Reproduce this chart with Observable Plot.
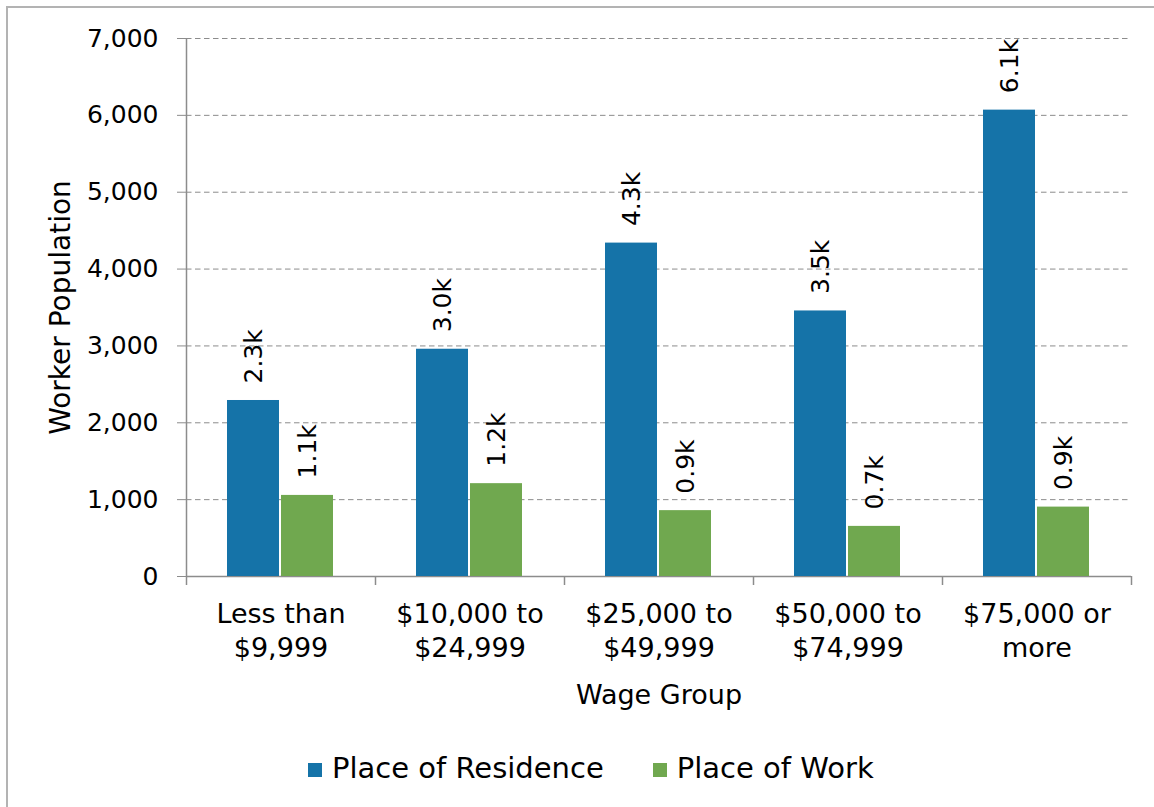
<!DOCTYPE html>
<html>
<head>
<meta charset="utf-8">
<script src="https://cdn.jsdelivr.net/npm/d3@7"></script>
<script src="https://cdn.jsdelivr.net/npm/@observablehq/plot@0.6"></script>
<style>
  html, body { margin: 0; padding: 0; background: #fff; }
  body { width: 1154px; height: 807px; overflow: hidden; position: relative; font-family: "DejaVu Sans", sans-serif; }
  #box { position: absolute; left: 6px; top: 6px; width: 1300px; height: 1000px; border-left: 2px solid #b3b3b3; border-top: 2px solid #b3b3b3; }
  #chart { position: absolute; left: 0; top: 0; }
  #legend { position: absolute; left: 308px; top: 751px; display: flex; align-items: center; gap: 49px; font-size: 29px; line-height: 34px; color: #000; }
  #legend .item { display: flex; align-items: center; gap: 10px; }
  #legend .sw { width: 14px; height: 14px; display: inline-block; margin-top: 3px; }
</style>
</head>
<body>
<div id="box"></div>
<div id="chart"></div>
<div id="legend"></div>
<script>
// ---- data ----
const categories = ["Less than\n$9,999", "$10,000 to\n$24,999", "$25,000 to\n$49,999", "$50,000 to\n$74,999", "$75,000 or\nmore"];
const series = ["Place of Residence", "Place of Work"];
const residence = [2290, 2957, 4338, 3455, 6068];
const work = [1055, 1208, 857, 652, 903];
const colors = ["#1573a8", "#70a84f"];
const yTicks = [0, 1000, 2000, 3000, 4000, 5000, 6000, 7000];
const yTitle = "Worker Population";
const xTitle = "Wage Group";

const rows = categories.flatMap((c, i) => [
  {cat: c, series: series[0], value: residence[i]},
  {cat: c, series: series[1], value: work[i]}
]);

const gray = "#8c8c8c";

const chart = Plot.plot({
  width: 1154,
  height: 720,
  marginLeft: 184,
  marginRight: 21,
  marginTop: 38,
  marginBottom: 144,
  style: {fontFamily: "'DejaVu Sans', sans-serif", fontSize: "25px", color: "#000", background: "transparent"},
  fx: {domain: categories, padding: 0, label: null},
  x: {domain: series, paddingInner: 0.03, paddingOuter: 0.76, axis: null},
  y: {domain: [0, 7000], axis: null},
  color: {domain: series, range: colors},
  marks: [
    Plot.gridY(yTicks, {stroke: gray, strokeOpacity: 1, strokeWidth: 1, strokeDasharray: "5.5,3.5"}),
    Plot.ruleY([0], {stroke: gray, strokeWidth: 1.5}),
    Plot.barY(rows, {fx: "cat", x: "series", y: "value", fill: "series"}),
    Plot.text(rows, {
      fx: "cat", x: "series", y: "value",
      text: d => (d.value / 1000).toFixed(1) + "k",
      rotate: -90, textAnchor: "start", dy: -17, fontSize: 25, fill: "#000"
    }),
    Plot.axisY(yTicks, {anchor: "left", tickSize: 9, tickPadding: 19, tickFormat: d3.format(","), stroke: gray, fill: "#000", fontSize: 25, label: null}),
    Plot.axisY({anchor: "left", tickSize: 0, text: null, label: yTitle, labelArrow: "none", labelAnchor: "center", labelOffset: 136, fontSize: 28, fill: "#000"}),
    Plot.axisFx({anchor: "bottom", tickSize: 0, tickPadding: 22, fontSize: 27, lineHeight: 1.26, fill: "#000",
      label: xTitle, labelArrow: "none", labelAnchor: "center", labelOffset: 127})
  ]
});

// axis line and category boundary ticks, positioned from the plot's own scales
const fxS = chart.scale("fx");
const yS = chart.scale("y");
const band = d3.scaleBand(fxS.domain, fxS.range)
  .paddingInner(fxS.paddingInner ?? 0)
  .paddingOuter(fxS.paddingOuter ?? 0)
  .align(fxS.align ?? 0.5)
  .round(!!fxS.round);
const yScale = d3.scaleLinear(yS.domain, yS.range);
const edges = fxS.domain.map(d => band(d)).concat([band(fxS.domain[fxS.domain.length - 1]) + band.bandwidth()]);
const g = d3.select(chart).append("g").attr("stroke", gray).attr("stroke-width", 1.5);
g.append("line")
  .attr("x1", edges[0] + 0.5).attr("x2", edges[0] + 0.5)
  .attr("y1", yScale(yTicks[yTicks.length - 1])).attr("y2", yScale(0));
edges.forEach(x => {
  g.append("line")
    .attr("x1", x + 0.5).attr("x2", x + 0.5)
    .attr("y1", yScale(0)).attr("y2", yScale(0) + 9);
});

document.getElementById("chart").appendChild(chart);

// legend
const legend = d3.select("#legend");
series.forEach((s, i) => {
  const item = legend.append("div").attr("class", "item");
  item.append("span").attr("class", "sw").style("background", colors[i]);
  item.append("span").text(s);
});
</script>
</body>
</html>
